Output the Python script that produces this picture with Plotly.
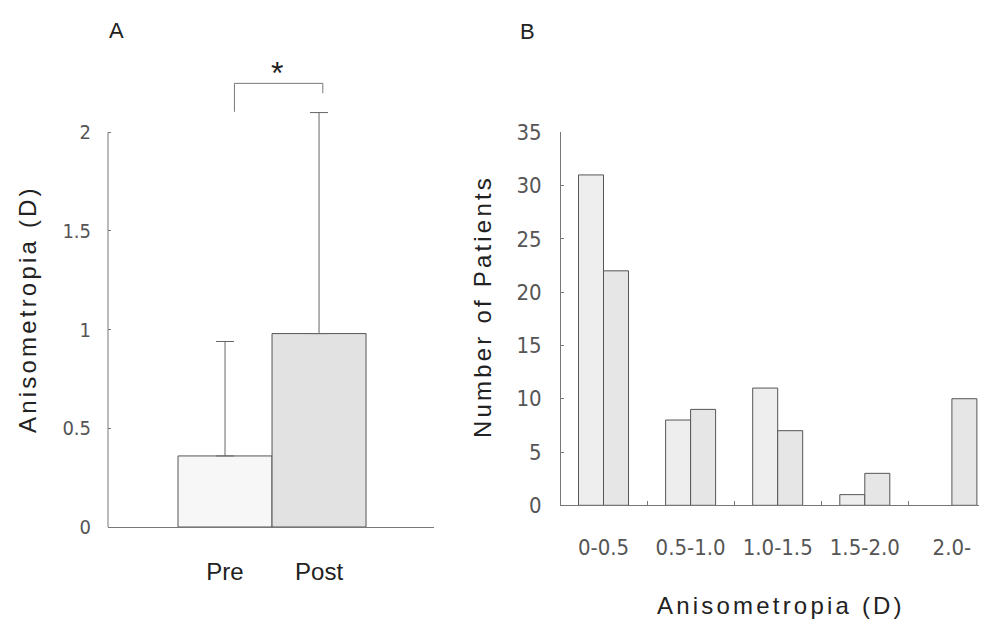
import plotly.graph_objects as go

# ---- Panel A data ----
groups_a = ["Pre", "Post"]
means_a = [0.36, 0.98]
sd_a = [0.58, 1.12]
yticks_a = [0, 0.5, 1, 1.5, 2]
yticktext_a = ["0", "0.5", "1", "1.5", "2"]

# ---- Panel B data ----
bins_b = ["0-0.5", "0.5-1.0", "1.0-1.5", "1.5-2.0", "2.0-"]
pre_counts = [31, 8, 11, 1, 0]
post_counts = [22, 9, 7, 3, 10]
yticks_b = [0, 5, 10, 15, 20, 25, 30, 35]

# page has an 8px body margin; size figure so it ends at the window edges
OFF = 8
W, H = 987 - OFF, 628 - OFF
def px_x(p): return (p - OFF) / W
def px_y(p): return 1 - (p - OFF) / H

AX = "#777777"
TICKC = "#555555"
TXT = "#222222"
NARROW = "Liberation Sans Narrow, DejaVu Sans Condensed, Arial Narrow, sans-serif"
SANS = "Liberation Sans, Arial, Helvetica, sans-serif"

fig = go.Figure()

# Panel A bars
fig.add_trace(go.Bar(
    x=groups_a, y=means_a, width=[1, 1],
    marker=dict(color=["#f7f7f7", "#e2e2e2"], line=dict(color="#555555", width=1)),
    error_y=dict(type="data", array=sd_a, arrayminus=[0, 0], symmetric=False,
                 color="#666666", thickness=1, width=9),
    xaxis="x", yaxis="y", showlegend=False, hoverinfo="skip",
))

# Panel B bars (no outline for empty bins)
bw = 0.287
fig.add_trace(go.Bar(
    x=bins_b, y=pre_counts, width=bw, offset=-bw,
    marker=dict(color="#eeeeee",
                line=dict(color="#555555", width=[1 if v > 0 else 0 for v in pre_counts])),
    xaxis="x2", yaxis="y2", showlegend=False, hoverinfo="skip",
))
fig.add_trace(go.Bar(
    x=bins_b, y=post_counts, width=bw, offset=0,
    marker=dict(color="#e6e6e6",
                line=dict(color="#555555", width=[1 if v > 0 else 0 for v in post_counts])),
    xaxis="x2", yaxis="y2", showlegend=False, hoverinfo="skip",
))

YTOP_A = 2.45
fig.update_layout(
    width=W, height=H,
    margin=dict(l=0, r=0, t=0, b=0, pad=0),
    paper_bgcolor="white", plot_bgcolor="white",
    barmode="overlay",
    xaxis=dict(domain=[px_x(108), px_x(434)], range=[-1.245, 2.223], automargin=False,
               type="category", showline=True, linecolor=AX, linewidth=1,
               ticks="", showgrid=False, zeroline=False,
               tickfont=dict(family=SANS, size=24, color=TXT),
               ticklabelstandoff=23),
    yaxis=dict(domain=[px_y(527), px_y(527 - YTOP_A * 197.35)], range=[0, YTOP_A],
               automargin=False,
               tickvals=yticks_a, ticktext=yticktext_a,
               showline=False, ticks="inside", ticklen=3, tickcolor=AX,
               showgrid=False, zeroline=False,
               tickfont=dict(family=NARROW, size=20, color=TICKC),
               ticklabelstandoff=16),
    xaxis2=dict(domain=[px_x(561), 1.0], range=[-0.488, 4.403], automargin=False,
                type="category", anchor="y2", showline=True, linecolor=AX, linewidth=1,
                ticks="inside", tickson="boundaries", ticklen=4, tickcolor=AX,
                showgrid=False, zeroline=False,
                tickfont=dict(family=NARROW, size=22, color=TICKC),
                ticklabelstandoff=22),
    yaxis2=dict(domain=[px_y(505.3), px_y(132.3)], range=[0, 35], anchor="x2",
                automargin=False,
                tickvals=yticks_b, showline=True, linecolor=AX, linewidth=1,
                ticks="inside", ticklen=3, tickcolor=AX,
                showgrid=False, zeroline=False,
                tickfont=dict(family=NARROW, size=22, color=TICKC),
                ticklabelstandoff=14),
)

# Panel A y-axis line only from 0 to 2
fig.add_shape(type="line", xref="x domain", yref="y", x0=0, x1=0, y0=0, y1=yticks_a[-1],
              line=dict(color=AX, width=1))

# significance bracket between Pre and Post
lx, rx = 0 + 0.10, 1 + 0.04
top = 2.248
fig.add_shape(type="path", xref="x", yref="y",
              path=f"M {lx},2.104 L {lx},{top} L {rx},{top} L {rx},2.198",
              line=dict(color=AX, width=1))
fig.add_annotation(x=0.55, y=2.30, xref="x", yref="y", text="*", showarrow=False,
                   xanchor="center", yanchor="middle",
                   font=dict(family=SANS, size=32, color=TXT))

ls = "letter-spacing:3.2px"
common = dict(xref="paper", yref="paper", showarrow=False, xanchor="center", yanchor="middle")
fig.add_annotation(x=px_x(27), y=px_y(309),
                   text=f"<span style='{ls}'>Anisometropia (D)</span>", textangle=-90,
                   font=dict(family=SANS, size=24, color=TXT), **common)
fig.add_annotation(x=px_x(483), y=px_y(307),
                   text=f"<span style='{ls}'>Number of Patients</span>", textangle=-90,
                   font=dict(family=SANS, size=24, color=TXT), **common)
fig.add_annotation(x=px_x(781), y=px_y(605),
                   text=f"<span style='{ls}'>Anisometropia (D)</span>",
                   font=dict(family=SANS, size=24, color=TXT), **common)

fig.add_annotation(x=px_x(116), y=px_y(30), text="A",
                   font=dict(family=SANS, size=22, color=TXT), **common)
fig.add_annotation(x=px_x(527), y=px_y(32), text="B",
                   font=dict(family=SANS, size=22, color=TXT), **common)

fig.write_html("out.html")
